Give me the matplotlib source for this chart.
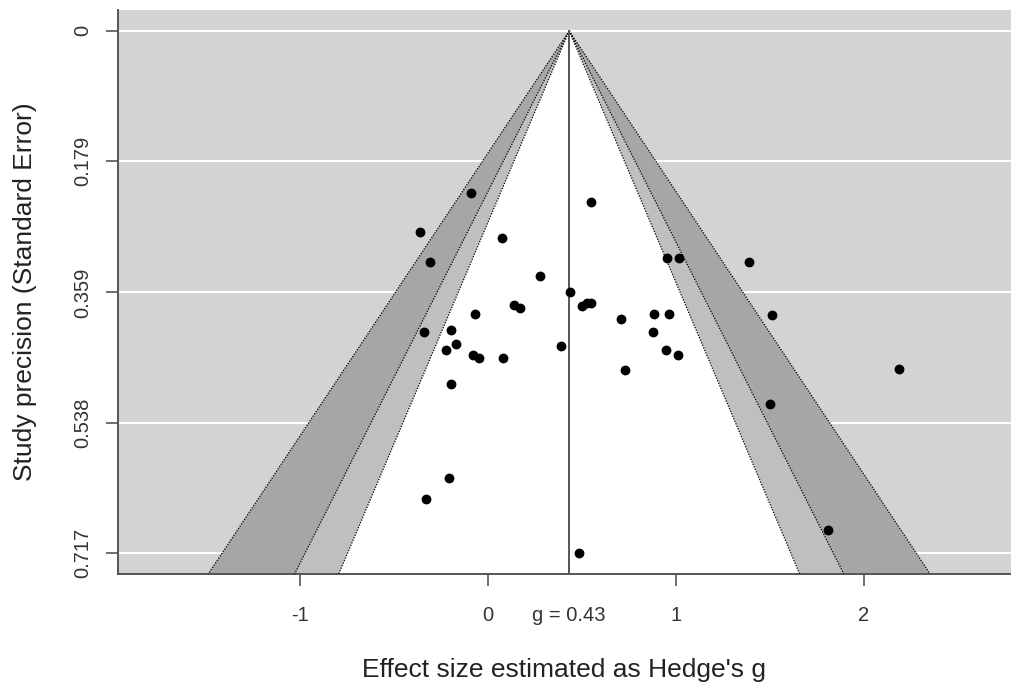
"""
Contour-enhanced funnel plot of Hedge's g against standard error
"""

import matplotlib
matplotlib.use('Agg')
import matplotlib.pyplot as plt
import numpy as np

# pooled estimate and study data
pooled_g = 0.434
hedges_g = [-0.089, 0.549, -0.360, 0.078, -0.305, 0.954, 1.016, 0.278, 0.439,
            0.141, 0.175, 0.502, 0.530, 0.549, -0.068, 0.712, 0.885, 0.963,
            -0.339, -0.194, -0.170, -0.220, 0.879, 0.392, -0.078, -0.046,
            0.083, 0.947, 1.011, 0.732, -0.194, 1.388, 1.512, 2.186, 1.503,
            1.808, -0.206, -0.327, 0.484]
std_err = [0.222, 0.235, 0.276, 0.284, 0.317, 0.311, 0.311, 0.336, 0.359,
           0.376, 0.380, 0.377, 0.373, 0.373, 0.389, 0.396, 0.388, 0.388,
           0.413, 0.411, 0.429, 0.438, 0.413, 0.433, 0.445, 0.449,
           0.449, 0.438, 0.445, 0.465, 0.485, 0.3165, 0.390, 0.4636, 0.512,
           0.685, 0.614, 0.642, 0.717]

# contour levels (99, 95, 90 %) and their shading, widest first
z_levels = [2.576, 1.960, 1.645]
shades = ['#A6A6A6', '#BFBFBF', 'white']

y_ticks = [0, 0.179, 0.359, 0.538, 0.717]
y_labels = ['0', '0.179', '0.359', '0.538', '0.717']
x_ticks = [-1, 0, 1, 2]

plt.rcParams['font.family'] = ['Liberation Sans', 'DejaVu Sans']

fig = plt.figure(figsize=(10.11, 6.88), dpi=100)
ax = fig.add_axes([0.1167, 0.1653, 0.8833, 0.8202])

se_max = max(std_err)
y_lo, y_hi = -0.04 * se_max, se_max * 1.04
ax.set_xlim(-1.966, 2.784)
ax.set_ylim(y_hi, y_lo)
ax.set_facecolor('#D3D3D3')

# white grid lines behind the funnel
for yt in y_ticks:
    ax.axhline(yt, color='white', lw=1.5, zorder=1)

# funnel regions
for z, shade in zip(z_levels, shades):
    xs = [pooled_g - z * y_hi, pooled_g, pooled_g + z * y_hi]
    ys = [y_hi, 0, y_hi]
    ax.fill(xs, ys, color=shade, zorder=2, lw=0)
for z in z_levels:
    for sign in (-1, 1):
        ax.plot([pooled_g, pooled_g + sign * z * y_hi], [0, y_hi],
                color='black', lw=0.9, ls=(0, (1, 1.2)), zorder=3)

ax.plot([pooled_g, pooled_g], [0, y_hi], color='#555555', lw=1.4, zorder=3)

ax.scatter(hedges_g, std_err, s=50, color='black', zorder=4, lw=0)

# axes styling
for side in ('top', 'right'):
    ax.spines[side].set_visible(False)
for side in ('left', 'bottom'):
    ax.spines[side].set_color('#555555')
    ax.spines[side].set_linewidth(1.4)
ax.set_xticks(x_ticks)
ax.set_xticklabels([str(t) for t in x_ticks])
ax.set_xticks([pooled_g], labels=['g = 0.43'], minor=True)
ax.set_yticks(y_ticks)
ax.set_yticklabels(y_labels, rotation=90, va='center')
ax.tick_params(axis='both', length=8.5, width=1.2, color='#555555',
               labelsize=14.5, labelcolor='#333333')
ax.tick_params(axis='x', pad=14)
ax.tick_params(axis='x', which='minor', length=0, pad=22.5,
               labelsize=14.5, labelcolor='#333333')
ax.tick_params(axis='y', pad=10)

ax.set_xlabel("Effect size estimated as Hedge's g", fontsize=19,
              color='#222222', labelpad=24)
ax.set_ylabel('Study precision (Standard Error)', fontsize=19,
              color='#222222', labelpad=26)

fig.savefig('out.png', dpi=100, facecolor='white')
